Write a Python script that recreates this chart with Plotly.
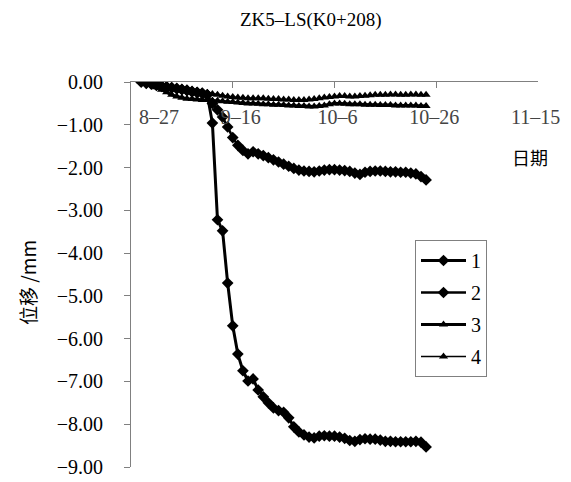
import pandas as pd
import plotly.graph_objects as go

dates = pd.date_range("2008-08-29", "2008-10-24", freq="D")

s1 = [0, -0.02, -0.04, -0.07, -0.09, -0.11, -0.13, -0.15, -0.17, -0.19, -0.22, -0.24, -0.26,
      -0.30, -0.96, -3.22, -3.48, -4.70, -5.70, -6.36, -6.75, -6.99, -6.94,
      -7.20, -7.36, -7.50, -7.62, -7.68, -7.72, -7.85, -8.06, -8.18, -8.25,
      -8.30, -8.32, -8.28, -8.27, -8.28, -8.28, -8.30, -8.33, -8.38, -8.40,
      -8.36, -8.34, -8.35, -8.35, -8.37, -8.40, -8.40, -8.41, -8.41, -8.41,
      -8.41, -8.40, -8.42, -8.53]
s2 = [0, -0.03, -0.05, -0.08, -0.10, -0.12, -0.14, -0.16, -0.18, -0.20, -0.23, -0.25, -0.27,
      -0.30, -0.50, -0.65, -0.82, -1.05, -1.30, -1.48, -1.60, -1.68, -1.63,
      -1.68, -1.72, -1.77, -1.82, -1.87, -1.92, -1.97, -2.02, -2.06, -2.08,
      -2.09, -2.10, -2.08, -2.06, -2.05, -2.05, -2.06, -2.07, -2.09, -2.13,
      -2.16, -2.11, -2.09, -2.08, -2.08, -2.09, -2.10, -2.10, -2.11, -2.11,
      -2.13, -2.15, -2.21, -2.29]
s3 = [0, -0.02, -0.06, -0.12, -0.18, -0.24, -0.30, -0.34, -0.37, -0.39, -0.40, -0.41, -0.42,
      -0.42, -0.43, -0.44, -0.45, -0.46, -0.47, -0.48, -0.49, -0.50, -0.50,
      -0.51, -0.52, -0.52, -0.53, -0.53, -0.54, -0.55, -0.55, -0.56, -0.56,
      -0.57, -0.57, -0.56, -0.55, -0.52, -0.50, -0.50, -0.51, -0.52, -0.52,
      -0.52, -0.53, -0.53, -0.53, -0.54, -0.54, -0.54, -0.55, -0.55, -0.55,
      -0.55, -0.55, -0.56, -0.56]
s4 = [0, -0.01, -0.03, -0.05, -0.07, -0.09, -0.11, -0.13, -0.15, -0.17, -0.19, -0.21, -0.23,
      -0.25, -0.28, -0.30, -0.32, -0.34, -0.35, -0.36, -0.37, -0.38, -0.38,
      -0.38, -0.38, -0.39, -0.40, -0.40, -0.41, -0.41, -0.42, -0.42, -0.42,
      -0.41, -0.40, -0.38, -0.36, -0.35, -0.34, -0.33, -0.33, -0.34, -0.34,
      -0.33, -0.32, -0.31, -0.30, -0.30, -0.30, -0.29, -0.29, -0.30, -0.30,
      -0.29, -0.29, -0.30, -0.30]

series_names = ["1", "2", "3", "4"]
tick_dates = ["2008-08-27", "2008-09-16", "2008-10-06", "2008-10-26", "2008-11-15"]
tick_labels = ["8\u201327", "9\u201316", "10\u20136", "10\u201326", "11\u201315"]

NB = "\u00a0"
lead = [7, 3, 2, 0, 0]
tick_text = [NB * a + t for t, a in zip(tick_labels, lead)]

FONT = "Liberation Serif"
CJK = "Noto Sans CJK SC"

styles = [
    dict(width=3, symbol="diamond", size=9),
    dict(width=2.5, symbol="diamond", size=9),
    dict(width=3, symbol="triangle-up", size=8),
    dict(width=1.3, symbol="triangle-up", size=8),
]

fig = go.Figure()
for name, ys, st in zip(series_names, [s1, s2, s3, s4], styles):
    fig.add_trace(go.Scatter(
        x=dates, y=ys, name=name, mode="lines+markers", legendgroup=name,
        line=dict(color="black", width=st["width"]),
        marker=dict(color="black", symbol=st["symbol"], size=st["size"]),
    ))

fig.update_layout(
    width=571, height=482,
    margin=dict(l=131, r=33, t=82, b=15, autoexpand=False),
    paper_bgcolor="white", plot_bgcolor="white",
    font=dict(family=FONT, size=20, color="black"),
    showlegend=True,
    legend=dict(
        x=(415 - 131) / 407, y=(467 - 240) / 385, xanchor="left", yanchor="top",
        bordercolor="#808080", borderwidth=1, bgcolor="white",
        font=dict(family=FONT, size=20),
        tracegroupgap=3, traceorder="grouped", itemwidth=45,
    ),
    annotations=[
        dict(text="ZK5\u2013LS(K0+208)", x=(311 - 131) / 407, y=1 + (82 - 20) / 385,
             xref="paper", yref="paper", xanchor="center", yanchor="middle",
             showarrow=False, font=dict(family=FONT, size=19)),
        dict(text="日期", x=(530 - 131) / 407, y=-(157 - 82) / 42.8, xref="paper", yref="y",
             xanchor="center", yanchor="middle",
             showarrow=False, font=dict(family=CJK, size=18)),
        dict(text="位移 /mm", textangle=-90, x=(28 - 131) / 407, y=-(283 - 82) / 42.8,
             xref="paper", yref="y", xanchor="center", yanchor="middle",
             showarrow=False, font=dict(family=CJK, size=19)),
    ],
)

fig.update_xaxes(
    type="date", range=["2008-08-27", "2008-11-15"], side="top", automargin=False,
    tickvals=tick_dates, ticktext=tick_text,
    ticks="inside", ticklen=6, tickcolor="#808080",
    ticklabelposition="inside right", ticklabelshift=-28,
    ticklabeloverflow="allow", ticklabelstandoff=26,
    showline=True, linecolor="#808080", linewidth=1,
    showgrid=False, zeroline=False,
    tickfont=dict(family=FONT, size=20),
)
fig.update_yaxes(
    range=[-9, 0], dtick=1, tick0=0, tickformat=".2f", automargin=False,
    ticks="outside", ticklen=6, tickcolor="#808080",
    showline=True, linecolor="#808080", linewidth=1,
    showgrid=False, zeroline=False, ticklabelstandoff=17,
    tickfont=dict(family=FONT, size=20),
)

fig.write_html("out.html")
